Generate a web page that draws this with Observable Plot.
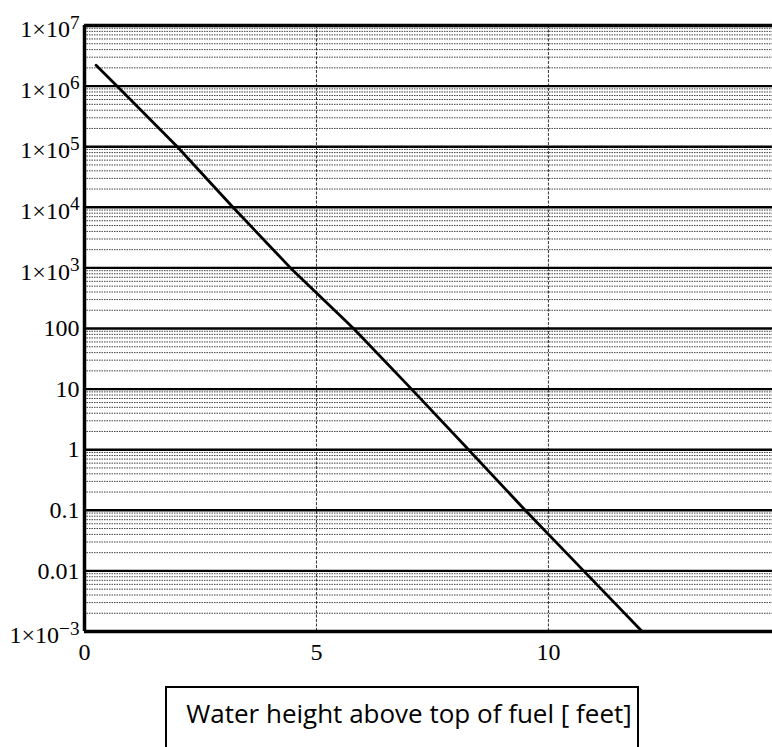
<!DOCTYPE html>
<html><head><meta charset="utf-8">
<script src="https://cdn.jsdelivr.net/npm/d3@7"></script>
<script src="https://cdn.jsdelivr.net/npm/@observablehq/plot@0.6"></script>
<style>
body{margin:0;background:#fff;}
#wrap{position:relative;width:772px;height:747px;overflow:hidden;background:#fff;}
#caption{position:absolute;left:165px;top:686px;width:474px;height:80px;box-sizing:border-box;border:2px solid #000;
  font-family:"Open Sans",sans-serif;font-size:26px;color:#000;text-align:center;padding-top:11px;padding-left:14px;line-height:1.15;}
</style></head>
<body><div id="wrap"><div id="chart"></div><div id="caption">Water height above top of fuel [ feet]</div></div>
<script>
// Line
const heightFeet = [0.25, 0.7, 2.0, 3.2, 4.44, 5.8, 7.05, 8.28, 9.5, 10.76, 12.02];
const doseValues = [2.2e6, 1e6, 1e5, 1e4, 1e3, 100, 10, 1, 0.1, 0.01, 0.001];
// Axis ticks ("^" separates the raised exponent)
const yTicks = [1e7, 1e6, 1e5, 1e4, 1e3, 100, 10, 1, 0.1, 0.01, 0.001];
const yTickLabels = ["1×10^7", "1×10^6", "1×10^5", "1×10^4", "1×10^3", "100", "10", "1", "0.1", "0.01", "1×10^−3"];
const xTicks = [0, 5, 10];
const xTickLabels = ["0", "5", "10"];
const minorMultipliers = [2, 3, 4, 5, 6, 7, 8, 9];

const lineData = heightFeet.map((x, i) => ({x, y: doseValues[i]}));
const minorGrid = [];
for (const d of yTicks) if (d < 1e7) for (const m of minorMultipliers) minorGrid.push(d * m);
const yLabel = new Map(yTicks.map((t, i) => [t, yTickLabels[i]]));
const xLabel = new Map(xTicks.map((t, i) => [t, xTickLabels[i]]));

const chart = Plot.plot({
  width: 772,
  height: 680,
  marginLeft: 84,
  marginRight: 0,
  marginTop: 25,
  marginBottom: 49,
  style: {background: "#fff", color: "#000"},
  x: {domain: [0, 14.83]},
  y: {type: "log", domain: [1e-3, 1e7]},
  marks: [
    Plot.ruleY(minorGrid, {stroke: "#000", strokeWidth: 1, strokeOpacity: 0.75, strokeDasharray: "1.5,1"}),
    Plot.ruleX([5, 10], {stroke: "#333", strokeWidth: 1, strokeDasharray: "3,1.5"}),
    Plot.ruleY(yTicks, {stroke: "#000", strokeWidth: 2.4}),
    Plot.ruleY([1e7, 1e-3], {stroke: "#000", strokeWidth: 3.5}),
    Plot.ruleX([0], {stroke: "#000", strokeWidth: 3.5}),
    Plot.line(lineData, {x: "x", y: "y", stroke: "#000", strokeWidth: 2.8}),
    Plot.axisY({ticks: yTicks, tickSize: 0, tickPadding: 5, tickFormat: d => yLabel.get(d),
      fontSize: 24, fontFamily: "Liberation Serif", label: null}),
    Plot.axisX({ticks: xTicks, tickSize: 0, tickPadding: 11, tickFormat: d => xLabel.get(d),
      fontSize: 24, fontFamily: "Liberation Serif", label: null})
  ]
});
// render the part after "^" as a raised exponent
chart.querySelectorAll('g[aria-label="y-axis tick label"] text').forEach(t => {
  const full = t.textContent;
  if (full.includes("^")) {
    const [base, exp] = full.split("^");
    t.textContent = base;
    const s = document.createElementNS("http://www.w3.org/2000/svg", "tspan");
    s.setAttribute("dy", "-0.45em");
    s.setAttribute("font-size", "0.8em");
    s.textContent = exp;
    t.appendChild(s);
    t.setAttribute("dy", (parseFloat(t.getAttribute("dy")) || 0) + 4);
  }
});
document.getElementById("chart").appendChild(chart);
</script>
</body></html>
